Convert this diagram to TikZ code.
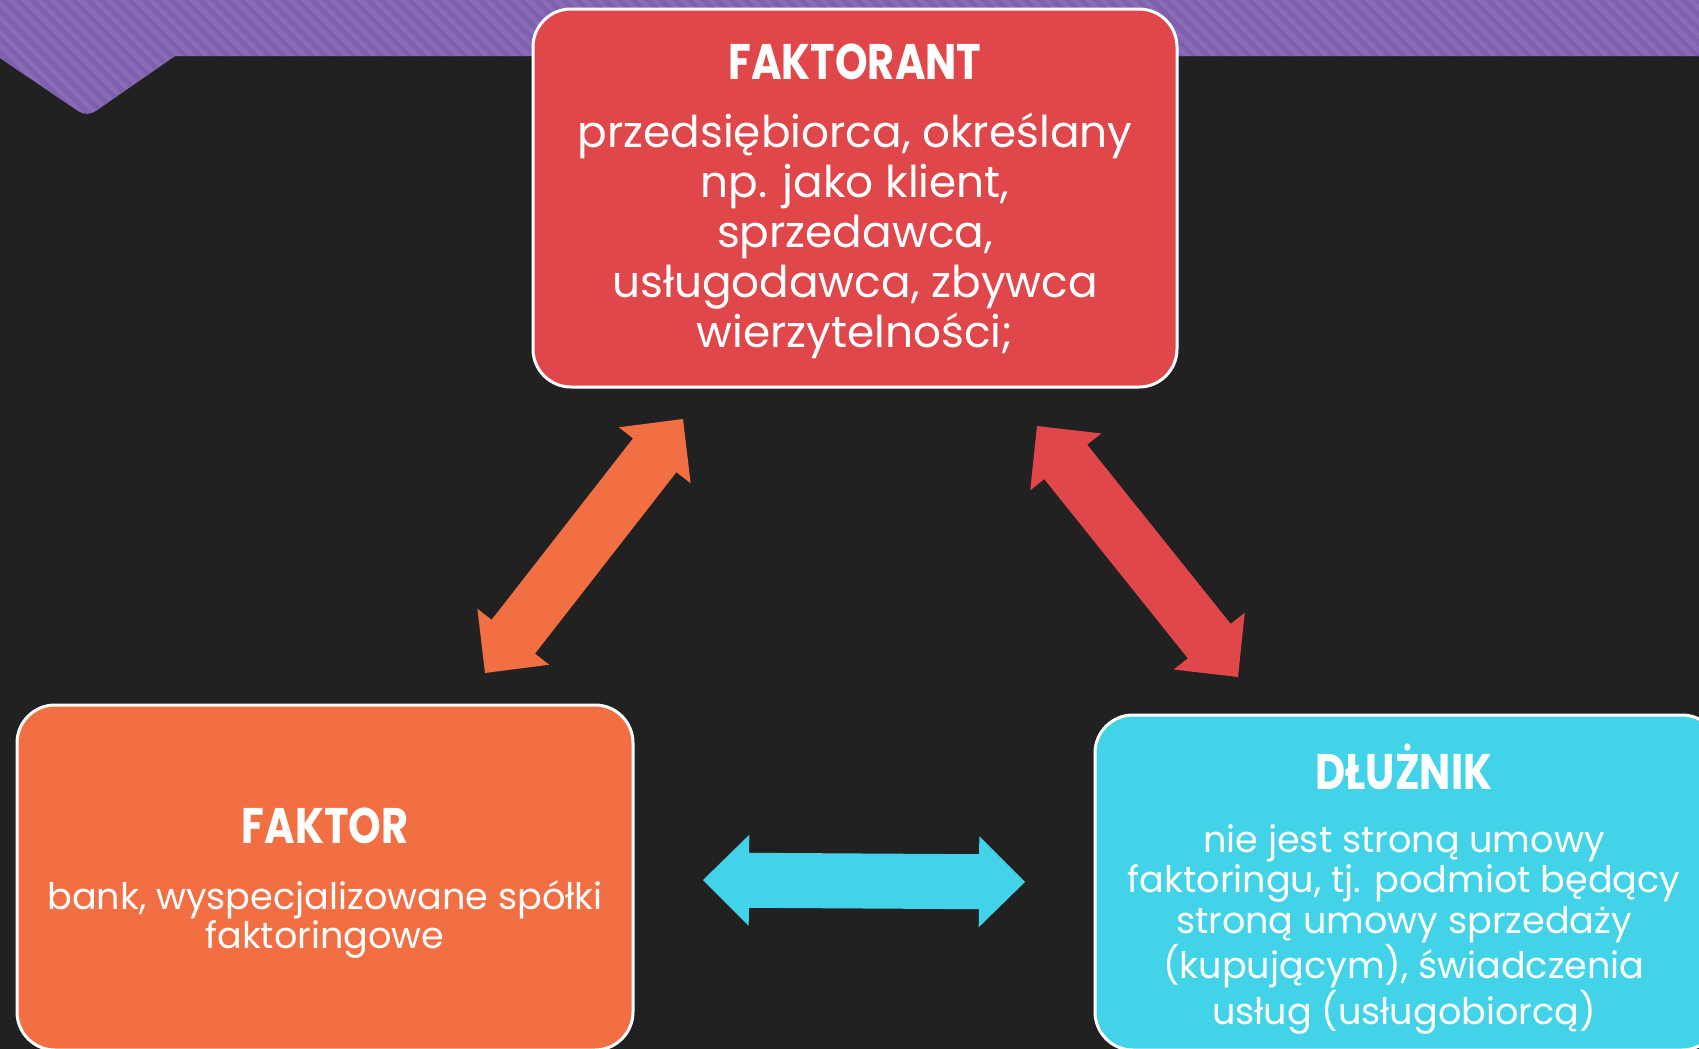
\documentclass[tikz,border=0pt]{standalone}
\usepackage{fontspec}
\setmainfont{Poppins}
\newfontfamily\headfont[FakeStretch=0.83]{Poppins}
\usetikzlibrary{calc, positioning}

\definecolor{bgdark}{HTML}{212121}
\definecolor{bandlight}{HTML}{8A6BB6}
\definecolor{banddark}{HTML}{7F60AE}
\definecolor{redbox}{HTML}{E0474A}
\definecolor{orangebox}{HTML}{F16F43}
\definecolor{cyanbox}{HTML}{42D3E8}

% block arrow with two heads between two named points
\newcommand\blockarrow[3]{%
  \fill[#1] (#2) -- ($(#2)!23pt!(#3)!22.75pt!90:(#3)$) -- ($(#2)!23pt!(#3)!13.75pt!90:(#3)$)
    -- ($(#3)!23pt!(#2)!13.75pt!-90:(#2)$) -- ($(#3)!23pt!(#2)!22.75pt!-90:(#2)$) -- (#3)
    -- ($(#3)!23pt!(#2)!22.75pt!90:(#2)$) -- ($(#3)!23pt!(#2)!13.75pt!90:(#2)$)
    -- ($(#2)!23pt!(#3)!13.75pt!-90:(#3)$) -- ($(#2)!23pt!(#3)!22.75pt!-90:(#3)$) -- cycle;}

\begin{document}
\begin{tikzpicture}[x=0.5pt, y=-0.5pt]
\tikzstyle{box}=[rounded corners=19pt, draw=white, line width=1.5pt, inner sep=0pt]
\tikzstyle{head}=[text=white, inner sep=0pt, anchor=base, font=\headfont\bfseries\fontsize{25}{30}\selectfont]
\tikzstyle{txt}=[text=white, inner sep=0pt, align=center]
\useasboundingbox (0,0) rectangle (1699,1049);
\clip (0,0) rectangle (1699,1049);
\fill[bgdark] (0,0) rectangle (1699,1049);

% striped band on top
\begin{scope}
  \clip (0,0) -- (1699,0) -- (1699,56) -- (175,56) [rounded corners=5pt] -- (87,117) [sharp corners] -- (0,58) -- cycle;
  \fill[bandlight] (0,0) rectangle (1699,120);
  \foreach \i in {-10,...,122}
    \fill[banddark] (\i*14,0) -- ++(7,0) -- ++(120,120) -- ++(-7,0) -- cycle;
\end{scope}

% boxes
\node[box, fill=redbox, minimum width=322pt, minimum height=189pt] (faktorant) at (855,198) {};
\node[box, fill=orangebox, minimum width=308pt, minimum height=172.5pt] (faktor) at (325,877.5) {};
\node[box, fill=cyanbox, minimum width=312.5pt, minimum height=167.5pt] (dluznik) at (1407.5,882.5) {};

\node[head] (faktorant-t) at (855,79) {FAKTORANT};
\node[txt, font=\fontsize{21.9}{25}\selectfont, below=16.5pt of faktorant-t] (faktorant-b)
  {przedsiębiorca, określany\\np. jako klient,\\sprzedawca,\\usługodawca, zbywca\\wierzytelności;};
\node[head] (faktor-t) at (325,843) {FAKTOR};
\node[txt, font=\fontsize{18.3}{19.5}\selectfont, below=18pt of faktor-t] (faktor-b)
  {bank, wyspecjalizowane spółki\\faktoringowe};
\node[head] (dluznik-t) at (1404,789) {DŁUŻNIK};
\node[txt, font=\fontsize{18.3}{20.3}\selectfont, below=17pt of dluznik-t] (dluznik-b)
  {nie jest stroną umowy\\faktoringu, tj. podmiot będący\\stroną umowy sprzedaży\\(kupującym), świadczenia\\usług (usługobiorcą)};

% arrow ends
\coordinate (ofaktor) at (485,673);
\coordinate (ofaktorant) at (683,419);
\coordinate (rfaktorant) at (1037,426);
\coordinate (rdluznik) at (1238,677);
\coordinate (cfaktor) at (703,880);
\coordinate (cdluznik) at (1025,882);
\blockarrow{orangebox}{ofaktor}{ofaktorant}
\blockarrow{redbox}{rfaktorant}{rdluznik}
\blockarrow{cyanbox}{cfaktor}{cdluznik}
\end{tikzpicture}
\end{document}
